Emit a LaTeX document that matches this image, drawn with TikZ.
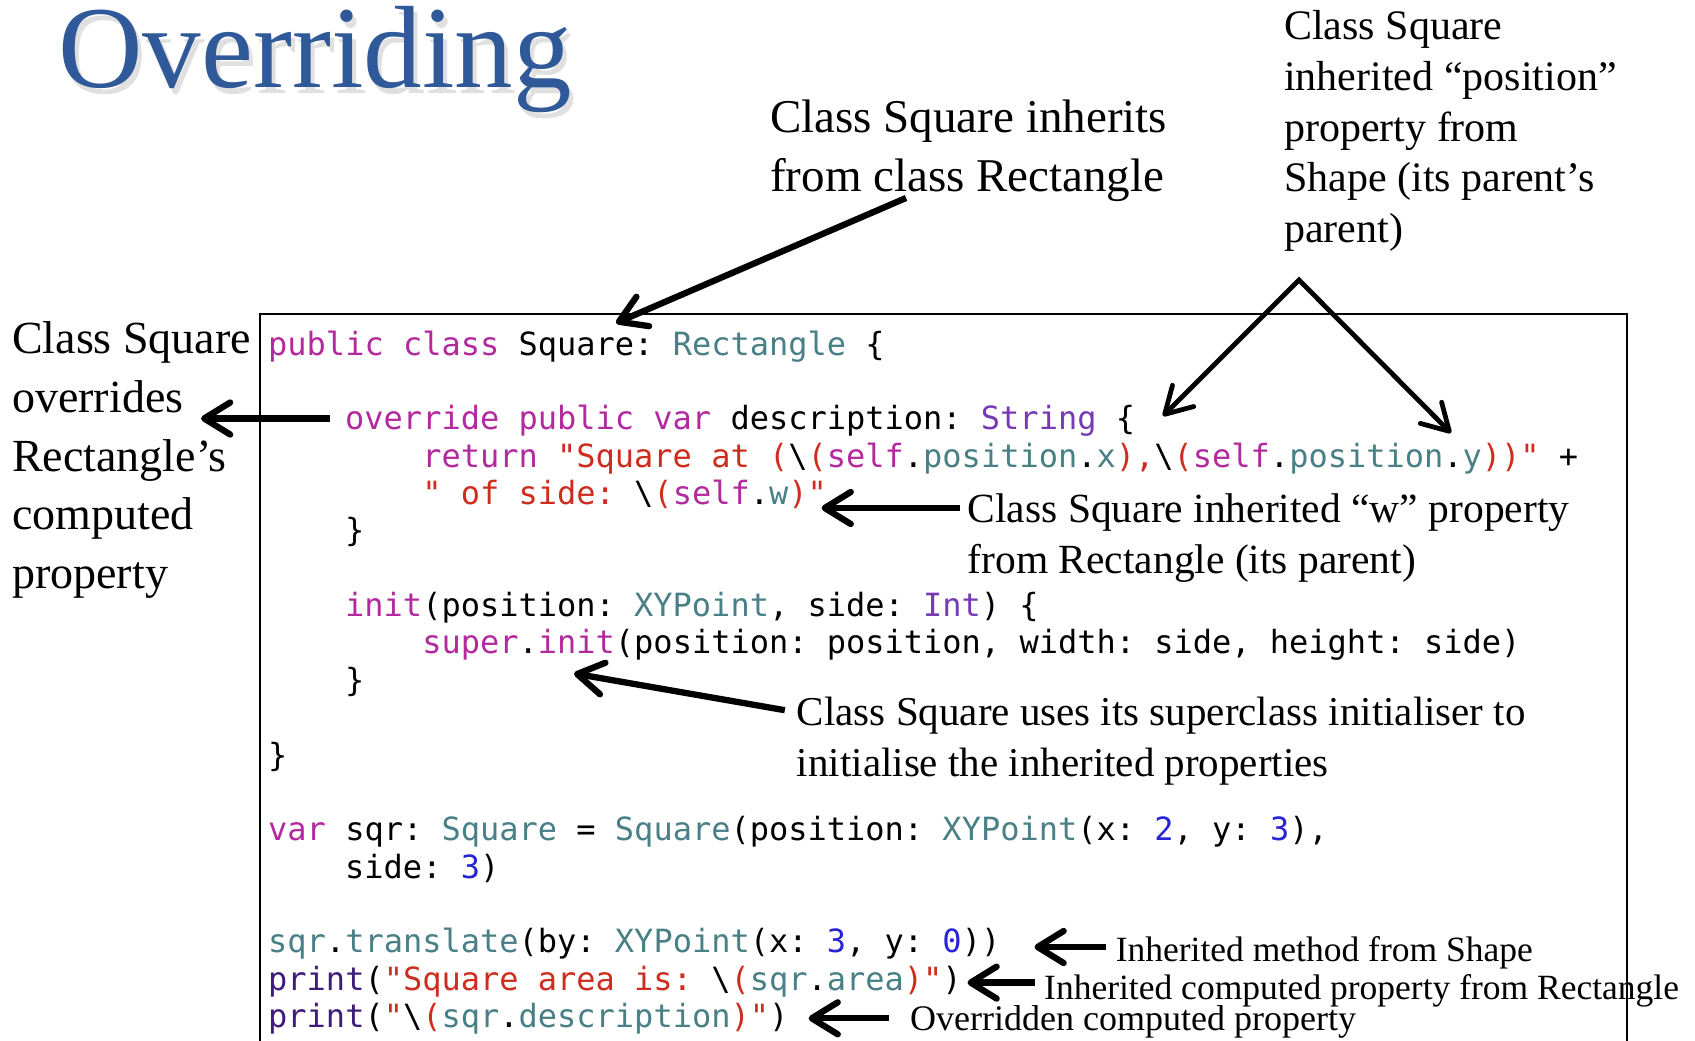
\documentclass[tikz,border=0pt]{standalone}
\usepackage{fontspec}
\setmainfont{Liberation Serif}
\setmonofont{DejaVu Sans Mono}
\usetikzlibrary{arrows.meta}
\definecolor{titleblue}{RGB}{47,89,152}
\definecolor{kwc}{RGB}{178,42,158}
\definecolor{tyc}{RGB}{72,128,134}
\definecolor{stc}{RGB}{206,45,30}
\definecolor{nuc}{RGB}{40,36,214}
\definecolor{puc}{RGB}{118,58,180}
\definecolor{prc}{RGB}{64,28,122}
\newcommand\cK[1]{\textcolor{kwc}{#1}}
\newcommand\cT[1]{\textcolor{tyc}{#1}}
\newcommand\cS[1]{\textcolor{stc}{#1}}
\newcommand\cN[1]{\textcolor{nuc}{#1}}
\newcommand\cP[1]{\textcolor{puc}{#1}}
\newcommand\cF[1]{\textcolor{prc}{#1}}
\newcommand\bsl{\textcolor{black}{\textbackslash}}
\tikzset{
  code/.style={anchor=base west, inner sep=0pt, font=\ttfamily\fontsize{32}{37}\selectfont\frenchspacing},
  note/.style={anchor=base west, inner sep=0pt, font=\fontsize{#1}{#1}\selectfont\frenchspacing},
  arr/.style={line width=6.3pt, -{Straight Barb[round,length=26pt,width=32pt]}},
  thinarr/.style={line width=4.8pt, {Straight Barb[round,length=26pt,width=30pt]}-{Straight Barb[round,length=26pt,width=30pt]}},
}
\begin{document}
\begin{tikzpicture}[x=1pt,y=-1pt]
\useasboundingbox (0,0) rectangle (1695,1041);
\fill[white] (0,0) rectangle (1695,1041);

% title
\node[anchor=base west, inner sep=0pt, text=black!12, font=\fontsize{117}{117}\selectfont] (tshadow) at (62,93) {Overriding};
\node[anchor=base west, inner sep=0pt, text=titleblue, font=\fontsize{117}{117}\selectfont] (title) at (58,88) {Overriding};

% code box
\draw[line width=2pt] (259.5,1050) -- (259.5,313.5) -- (1627,313.5) -- (1627,1050);

% code lines
\node[code] (c1)  at (268,355)   {\cK{public class} Square: \cT{Rectangle} \{};
\node[code] (c3)  at (345,429.7) {\cK{override public var} description: \cP{String} \{};
\node[code] (c4)  at (422.1,467.1) {\cK{return} \cS{"Square at (}\bsl\cS{(}\cK{self}.\cT{position}.\cT{x}\cS{),}\bsl\cS{(}\cK{self}.\cT{position}.\cT{y}\cS{))"} +};
\node[code] (c5)  at (422.1,504.4) {\cS{" of side: }\bsl\cS{(}\cK{self}.\cT{w}\cS{)"}};
\node[code] (c6)  at (345,541.8) {\}};
\node[code] (c8)  at (345,616.5) {\cK{init}(position: \cT{XYPoint}, side: \cP{Int}) \{};
\node[code] (c9)  at (422.1,653.9) {\cK{super}.\cK{init}(position: position, width: side, height: side)};
\node[code] (c10) at (345,691.2) {\}};
\node[code] (c12) at (268,766.0) {\}};
\node[code] (c14) at (268,840.7) {\cK{var} sqr: \cT{Square} = \cT{Square}(position: \cT{XYPoint}(x: \cN{2}, y: \cN{3}),};
\node[code] (c15) at (345,878.0) {side: \cN{3})};
\node[code] (c17) at (268,952.8) {\cT{sqr}.\cT{translate}(by: \cT{XYPoint}(x: \cN{3}, y: \cN{0}))};
\node[code] (c18) at (268,990.1) {\cF{print}(\cS{"Square area is: }\bsl\cS{(}\cT{sqr}.\cT{area}\cS{)"})};
\node[code] (c19) at (268,1027.5) {\cF{print}(\cS{"}\bsl\cS{(}\cT{sqr}.\cT{description}\cS{)"})};

% annotations
\node[note=47] (a1) at (770,132) {Class Square inherits};
\node[note=47] (a2) at (770,191) {from class Rectangle};

\node[note=42] (b1) at (1284,40)  {Class Square};
\node[note=42] (b2) at (1284,90.5) {inherited “position”};
\node[note=42] (b3) at (1284,141) {property from};
\node[note=42] (b4) at (1284,191.5) {Shape (its parent’s};
\node[note=42] (b5) at (1284,242) {parent)};

\node[note=46] (l1) at (12,353.5) {Class Square};
\node[note=46] (l2) at (12,412)   {overrides};
\node[note=46] (l3) at (12,471)   {Rectangle’s};
\node[note=46] (l4) at (12,529.5) {computed};
\node[note=46] (l5) at (12,588)   {property};

\node[note=41.5] (d1) at (967.5,522) {Class Square inherited “w” property};
\node[note=41.5] (d2) at (967.5,573) {from Rectangle (its parent)};

\node[note=41] (e1) at (796.7,725) {Class Square uses its superclass initialiser to};
\node[note=41] (e2) at (796.7,776) {initialise the inherited properties};

\node[note=35.5] (f1) at (1115.6,961) {Inherited method from Shape};
\node[note=35.5] (g1) at (1044,999)   {Inherited computed property from Rectangle};
\node[note=36]   (h1) at (910,1030)   {Overridden computed property};

% arrow end points
\coordinate (p1s) at (906,198);   \coordinate (p1e) at (616,323);
\coordinate (p2s) at (330,418.5); \coordinate (p2e) at (201,418.5);
\coordinate (p3a) at (1299,280);  \coordinate (p3l) at (1163,416); \coordinate (p3r) at (1451,433);
\coordinate (p4s) at (960,508);   \coordinate (p4e) at (821.6,508);
\coordinate (p5s) at (784.8,710.2); \coordinate (p5e) at (574,673.5);
\coordinate (p6s) at (1105.9,947);  \coordinate (p6e) at (1034.5,947);
\coordinate (p7s) at (1034.5,982.6); \coordinate (p7e) at (967.5,982.6);
\coordinate (p8s) at (888.6,1018.3); \coordinate (p8e) at (808.6,1018.3);

\draw[arr] (p1s) -- (p1e);
\draw[arr] (p2s) -- (p2e);
\draw[thinarr, line join=miter] (p3l) -- (p3a) -- (p3r);
\draw[arr] (p4s) -- (p4e);
\draw[arr] (p5s) -- (p5e);
\draw[arr] (p6s) -- (p6e);
\draw[arr] (p7s) -- (p7e);
\draw[arr] (p8s) -- (p8e);
\end{tikzpicture}
\end{document}
